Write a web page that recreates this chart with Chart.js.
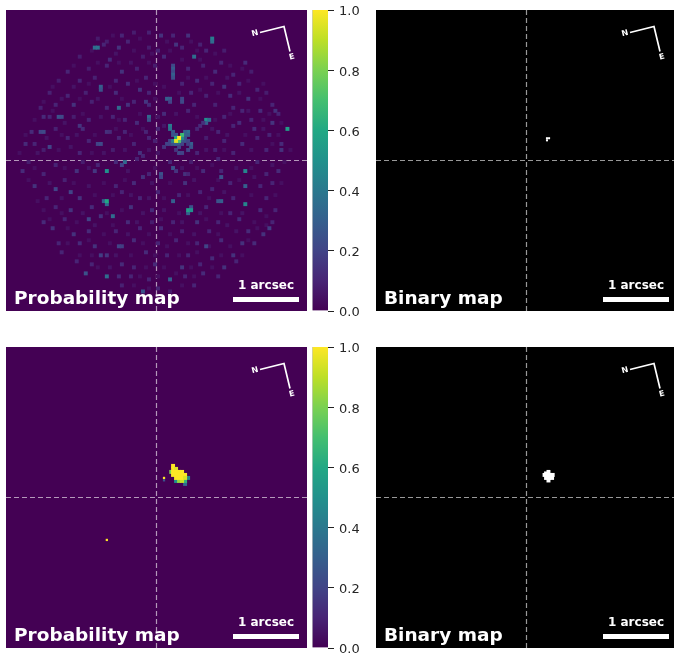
<!DOCTYPE html>
<html>
<head>
<meta charset="utf-8">
<title>Probability and binary maps</title>
<script src="https://cdn.jsdelivr.net/npm/chart.js@4"></script>
<style>
  html, body { margin: 0; padding: 0; background: #fff; overflow: hidden; width: 674px; height: 655px; }
  canvas { position: absolute; }
  .map { filter: blur(0.7px); }
</style>
</head>
<body>
<canvas id="mapTopLeft" class="map" style="left:6px;top:10px" width="301" height="301"></canvas>
<canvas id="barTop" style="left:312px;top:0px" width="60" height="320"></canvas>
<canvas id="mapTopRight" class="map" style="left:376px;top:10px" width="301" height="301"></canvas>
<canvas id="mapBottomLeft" class="map" style="left:6px;top:347px" width="301" height="301"></canvas>
<canvas id="barBottom" style="left:312px;top:337px" width="60" height="320"></canvas>
<canvas id="mapBottomRight" class="map" style="left:376px;top:347px" width="301" height="301"></canvas>
<script>
// Cells are [column, row, value] on the 100x100 map, only the non zero ones
const probTopCore = [
  [54,38,0.42],[54,39,0.38],[55,40,0.28],[55,41,0.26],[56,41,0.25],[60,40,0.36],[59,40,0.3],[60,41,0.3],[59,41,0.3],[59,42,0.25],
  [58,43,0.3],[59,43,0.25],[61,44,0.3],[61,45,0.25],[60,46,0.2],[53,44,0.2],[52,45,0.15],[57,47,0.22],[58,47,0.2],[56,46,0.15],
  [54,43,0.2],[54,44,0.2],[55,44,0.25],[56,44,0.3],[57,44,0.3],[58,44,0.2],[57,45,0.2],[60,43,0.2],[60,44,0.18],
  [66,36,0.5],[67,36,0.35],[66,37,0.3],[65,37,0.14],[64,38,0.12],[63,39,0.1],
  [55,43,0.42],[56,42,0.6],[58,42,0.48],[58,41,0.68],[57,43,0.72],[56,43,0.95],[57,42,1]
];
const probTopSpots = [
  [29,12,0.35],[30,12,0.38],[68,9,0.42],[68,10,0.35],[62,15,0.36],[55,18,0.22],[55,19,0.28],[55,20,0.22],[55,21,0.3],[55,22,0.25],
  [31,25,0.3],[31,26,0.25],[53,29,0.3],[54,29,0.28],[54,30,0.2],[58,29,0.2],[58,30,0.22],[37,32,0.35],[47,35,0.34],[47,36,0.25],
  [93,39,0.55],[17,35,0.25],[18,35,0.22],[11,40,0.2],[12,40,0.22],[30,44,0.2],[31,44,0.22],[14,45,0.2],[39,50,0.34],[38,51,0.2],
  [33,53,0.5],[79,53,0.45],[55,52,0.25],[56,53,0.15],[51,54,0.25],[51,55,0.2],[33,64,0.35],[32,63,0.3],[33,63,0.6],[60,67,0.3],[61,65,0.25],
  [60,66,0.55],[61,66,0.5],[79,64,0.45],[71,63,0.3],[70,63,0.26],[55,63,0.3],[33,88,0.35],[54,89,0.3],[26,87,0.25],[45,93,0.25],[79,58,0.3],
  [71,55,0.25],[16,59,0.2],[21,60,0.2],[35,68,0.35],[27,69,0.2],[87,72,0.18],[66,78,0.2],[37,78,0.2],[38,78,0.18],[31,81,0.18]
];
const probTopFaint = [
  [38,8,0.1],[42,7,0.08],[47,7,0.09],[51,8,0.14],[55,8,0.1],[60,8,0.14],[33,10,0.08],[40,10,0.1],[64,11,0.09],[30,9,0.07],
  [32,11,0.1],[37,12,0.14],[47,12,0.08],[50,13,0.1],[56,11,0.15],[58,12,0.1],[66,13,0.1],[72,13,0.08],[24,15,0.08],[34,16,0.12],
  [45,15,0.08],[52,15,0.12],[71,17,0.1],[79,17,0.12],[20,20,0.1],[27,19,0.08],[33,18,0.1],[38,20,0.14],[43,19,0.09],[49,18,0.08],
  [60,19,0.1],[65,18,0.09],[69,20,0.12],[75,21,0.1],[81,20,0.08],[17,23,0.08],[24,23,0.1],[29,22,0.09],[36,23,0.1],[40,24,0.12],
  [46,22,0.1],[58,24,0.1],[63,23,0.12],[68,24,0.1],[72,25,0.14],[77,24,0.1],[83,26,0.1],[86,27,0.08],[14,27,0.09],[20,28,0.1],
  [26,27,0.09],[36,27,0.12],[44,26,0.14],[47,27,0.1],[61,27,0.1],[66,28,0.09],[74,28,0.12],[80,29,0.14],[88,31,0.1],[11,32,0.09],
  [16,31,0.1],[22,31,0.14],[28,30,0.09],[33,32,0.1],[40,31,0.14],[42,30,0.1],[46,30,0.16],[47,31,0.12],[62,31,0.1],[69,31,0.09],
  [75,32,0.1],[78,33,0.1],[84,33,0.12],[89,33,0.14],[90,34,0.1],[12,35,0.12],[14,35,0.1],[22,35,0.08],[27,36,0.1],[35,35,0.1],
  [39,36,0.1],[43,37,0.12],[52,34,0.12],[60,33,0.1],[72,35,0.1],[77,37,0.12],[81,36,0.1],[88,37,0.15],[8,40,0.12],[16,39,0.09],
  [24,38,0.15],[25,39,0.12],[33,40,0.14],[34,40,0.12],[39,40,0.1],[46,40,0.1],[50,39,0.1],[70,40,0.1],[75,38,0.1],[82,39,0.12],
  [87,41,0.1],[6,44,0.12],[9,44,0.1],[20,42,0.1],[27,43,0.1],[37,42,0.1],[42,44,0.1],[47,42,0.1],[49,43,0.09],[66,42,0.08],
  [72,43,0.1],[78,44,0.12],[83,42,0.1],[91,44,0.12],[12,46,0.08],[24,47,0.1],[35,46,0.08],[44,47,0.14],[45,48,0.1],[63,47,0.1],
  [69,46,0.09],[75,47,0.1],[86,46,0.1],[91,46,0.14],[7,50,0.08],[16,51,0.1],[25,50,0.08],[30,51,0.1],[36,50,0.12],[43,49,0.09],
  [54,50,0.1],[61,50,0.08],[70,49,0.1],[83,50,0.1],[5,53,0.12],[12,54,0.1],[23,53,0.14],[29,53,0.16],[47,54,0.1],[59,54,0.14],
  [60,54,0.1],[65,53,0.12],[71,53,0.1],[86,54,0.1],[90,53,0.12],[9,58,0.14],[19,56,0.09],[36,58,0.1],[42,57,0.12],[45,55,0.14],
  [59,57,0.14],[68,59,0.1],[74,57,0.1],[84,58,0.1],[88,57,0.1],[13,62,0.1],[24,62,0.14],[38,60,0.1],[44,62,0.1],[50,60,0.1],
  [57,61,0.1],[64,60,0.1],[75,62,0.1],[86,62,0.1],[16,65,0.1],[21,66,0.14],[28,65,0.12],[41,65,0.14],[48,66,0.12],[66,65,0.1],
  [74,67,0.1],[84,66,0.12],[89,66,0.1],[12,70,0.12],[19,69,0.1],[31,68,0.14],[40,70,0.12],[48,70,0.08],[55,70,0.1],[63,70,0.14],
  [70,70,0.1],[77,69,0.12],[88,70,0.1],[15,72,0.14],[22,74,0.14],[27,73,0.12],[36,73,0.1],[44,72,0.1],[51,72,0.12],[58,73,0.09],
  [67,73,0.1],[80,73,0.12],[85,74,0.14],[17,77,0.1],[24,77,0.12],[29,78,0.14],[42,76,0.12],[50,77,0.1],[56,76,0.1],[63,77,0.1],
  [71,76,0.12],[78,77,0.14],[82,77,0.12],[18,80,0.1],[33,81,0.15],[46,80,0.12],[53,81,0.1],[60,81,0.1],[68,82,0.12],[75,81,0.14],
  [23,83,0.1],[28,84,0.1],[38,84,0.12],[42,85,0.1],[49,84,0.12],[58,85,0.15],[64,84,0.1],[72,85,0.14],[76,83,0.1],[37,88,0.12],
  [41,88,0.1],[47,89,0.1],[59,88,0.1],[65,87,0.12],[70,88,0.1],[38,91,0.09],[50,92,0.1],[54,93,0.08],[62,91,0.1]
];
// Fainter haze between the spots, it fills the round footprint
const probTopHaze = [
  [35,8,0.04],[44,9,0.04],[53,10,0.04],[61,10,0.04],[28,13,0.04],[36,14,0.05],[42,13,0.04],[48,14,0.04],[54,13,0.04],[63,13,0.04],[69,14,0.04],
  [22,18,0.04],[30,17,0.04],[37,17,0.04],[41,17,0.05],[47,17,0.04],[58,16,0.04],[64,16,0.04],[74,18,0.04],[78,19,0.04],
  [15,25,0.04],[22,25,0.05],[27,24,0.04],[34,25,0.04],[43,23,0.04],[49,24,0.04],[52,25,0.04],[60,22,0.04],[66,22,0.04],[73,22,0.05],[80,23,0.04],[85,24,0.04],
  [12,30,0.04],[18,29,0.05],[24,29,0.04],[30,29,0.05],[38,29,0.04],[49,29,0.04],[57,27,0.04],[64,26,0.04],[70,27,0.04],[77,27,0.05],[84,29,0.04],[87,34,0.04],
  [9,36,0.04],[15,33,0.04],[19,37,0.05],[25,34,0.04],[31,35,0.05],[37,36,0.04],[44,34,0.04],[50,35,0.05],[56,34,0.05],[63,35,0.04],[69,36,0.04],[74,34,0.04],[80,33,0.05],[85,36,0.04],[91,37,0.04],
  [6,41,0.04],[13,42,0.05],[18,41,0.04],[23,41,0.05],[29,41,0.04],[36,39,0.04],[41,41,0.04],[45,39,0.04],[52,38,0.06],[68,39,0.05],[73,41,0.05],[79,41,0.04],[85,39,0.05],[90,41,0.04],
  [4,47,0.04],[10,47,0.05],[17,46,0.04],[21,45,0.05],[28,47,0.04],[32,47,0.05],[39,46,0.05],[47,46,0.05],[50,47,0.05],[66,46,0.05],[72,46,0.04],[81,46,0.05],[88,44,0.04],[94,46,0.04],
  [9,52,0.04],[19,52,0.04],[27,52,0.05],[40,53,0.05],[49,52,0.04],[58,52,0.05],[63,52,0.04],[68,51,0.04],[76,52,0.05],[81,52,0.04],[88,51,0.05],[92,50,0.04],
  [7,56,0.04],[14,57,0.05],[22,57,0.04],[27,58,0.05],[32,57,0.04],[39,56,0.04],[48,57,0.05],[54,57,0.04],[62,56,0.05],[70,56,0.04],[77,56,0.04],[82,55,0.05],[91,57,0.04],
  [10,63,0.04],[18,62,0.05],[29,61,0.04],[35,61,0.04],[41,61,0.05],[47,62,0.05],[52,62,0.04],[60,61,0.04],[67,62,0.04],[72,60,0.05],[81,61,0.04],[89,61,0.04],
  [12,66,0.04],[18,67,0.04],[25,67,0.05],[33,67,0.04],[38,66,0.04],[45,67,0.05],[52,66,0.05],[57,67,0.04],[64,67,0.05],[71,67,0.04],[78,67,0.05],[86,68,0.04],
  [14,69,0.04],[23,70,0.04],[29,71,0.05],[35,71,0.04],[43,70,0.05],[51,69,0.04],[58,70,0.05],[66,69,0.04],[73,71,0.05],[82,70,0.04],[86,71,0.04],
  [20,72,0.04],[32,74,0.04],[40,74,0.05],[47,74,0.04],[54,74,0.04],[62,74,0.05],[70,74,0.04],[76,73,0.05],[83,72,0.04],
  [20,77,0.04],[27,76,0.04],[34,77,0.04],[45,77,0.04],[53,78,0.04],[60,77,0.04],[67,78,0.04],[74,78,0.04],[80,76,0.04],
  [24,81,0.04],[28,81,0.04],[36,81,0.05],[41,81,0.04],[49,81,0.04],[57,81,0.04],[63,80,0.04],[71,81,0.04],[78,81,0.04],
  [30,85,0.04],[34,85,0.05],[46,85,0.04],[52,85,0.04],[61,85,0.04],[68,85,0.04],[44,88,0.04],[50,88,0.04],[56,87,0.04],[62,88,0.04],[42,91,0.04],[47,92,0.04],[58,91,0.04]
];
const probBottomCells = [
  [59,45,0.35],[59,44,0.65],[56,44,0.5],[60,43,0.45],[57,44,0.85],[58,44,0.92],
  [55,39,1],[55,40,1],[56,40,0.95],[54.4,41,0.8],[55,41,1],[56,41,1],[57,41,1],[58,41,1],
  [55,42,1],[56,42,1],[57,42,1],[58,42,1],[59,42,1],[56,43,1],[57,43,1],[58,43,1],[59,43,0.95]
];
const probBottomDots = [[52,43.8,0.25],[52,43,1],[33,63.6,1]];
const noDots = [];
const binaryTopCells = [[56.3,42.1,1],[57,42.1,1],[56.3,42.8,1]];
const binaryBottomCells = [
  [56.8,41,1],[56,41.5,1],[55.5,42,1],[56.5,42,1],[57.5,42,1],[58.2,42,1],[56,43,1],[57,43,1],[58,43,1],[56.8,43.84,1]
];
const probTopCells = probTopHaze.concat(probTopFaint, probTopSpots, probTopCore);
const crossAt = [50];
const barTicks = [0, 0.2, 0.4, 0.6, 0.8, 1];

// Colormap stops for the colorbar and the cells
const viridis = ['#440154','#482475','#414487','#355f8d','#2a788e','#21918c','#22a884','#44bf70','#7ad151','#bddf26','#fde725'];

function hexRgb(h) {
  return [1, 3, 5].map(i => parseInt(h.substr(i, 2), 16));
}
function viridisColor(v) {
  const p = Math.min(v, 1) * (viridis.length - 1);
  const i = Math.min(Math.floor(p), viridis.length - 2);
  const a = hexRgb(viridis[i]), b = hexRgb(viridis[i + 1]);
  const c = a.map((n, k) => Math.round(n + (b[k] - n) * (p - i)));
  return `rgb(${c[0]},${c[1]},${c[2]})`;
}

// Background, compass, scale bar and caption
const overlay = {
  id: 'overlay',
  beforeDatasetsDraw(chart, args, opts) {
    const { ctx, chartArea: a } = chart;
    ctx.save();
    ctx.fillStyle = opts.bg;
    ctx.fillRect(a.left, a.top, a.width, a.height);
    ctx.restore();
  },
  afterDatasetsDraw(chart, args, opts) {
    const { ctx } = chart;
    ctx.save();
    ctx.strokeStyle = '#fff';
    ctx.fillStyle = '#fff';
    ctx.lineWidth = 1.7;
    ctx.beginPath();
    ctx.moveTo(254, 22.5);
    ctx.lineTo(278, 16.5);
    ctx.lineTo(284, 41.5);
    ctx.stroke();
    ctx.textAlign = 'center';
    ctx.textBaseline = 'middle';
    ctx.font = 'bold 8px "DejaVu Sans"';
    [['N', 249, 23.5], ['E', 286, 47]].forEach(([t, x, y]) => {
      ctx.save();
      ctx.translate(x, y);
      ctx.rotate(-14 * Math.PI / 180);
      ctx.fillText(t, 0, 0);
      ctx.restore();
    });
    ctx.fillRect(227, 287, 66, 5);
    ctx.font = 'bold 12px "DejaVu Sans"';
    ctx.fillText('1 arcsec', 260, 276);
    ctx.textAlign = 'left';
    ctx.textBaseline = 'alphabetic';
    ctx.font = 'bold 18.5px "DejaVu Sans"';
    ctx.fillText(opts.title, 8, 294);
    ctx.restore();
  }
};

function toPoints(cells) {
  return cells.map(c => ({ x: c[0] + 0.5, y: c[1] + 0.5, v: c[2] }));
}

function makeMap(id, cells, color, title, bg, radius, dots) {
  const fill = ctx => (ctx.raw ? color(ctx.raw.v) : bg);
  new Chart(document.getElementById(id), {
    type: 'scatter',
    data: {
      datasets: [
        { data: toPoints(cells), pointStyle: 'rect', pointRadius: radius, borderWidth: 0, backgroundColor: fill },
        { data: toPoints(dots), pointStyle: 'rect', pointRadius: 1.6, borderWidth: 0, backgroundColor: fill },
        {
          data: [{ x: crossAt[0], y: 0 }, { x: crossAt[0], y: 100 }],
          showLine: true, pointRadius: 0, borderWidth: 1.2,
          borderColor: 'rgba(255,255,255,0.6)', borderDash: [5, 3]
        },
        {
          data: [{ x: 0, y: crossAt[0] }, { x: 100, y: crossAt[0] }],
          showLine: true, pointRadius: 0, borderWidth: 1.2,
          borderColor: 'rgba(255,255,255,0.6)', borderDash: [5, 3]
        }
      ]
    },
    options: {
      responsive: false,
      animation: false,
      layout: { padding: 0, autoPadding: false },
      plugins: { legend: { display: false }, tooltip: { enabled: false }, overlay: { title, bg } },
      scales: {
        x: { type: 'linear', min: 0, max: 100, display: false },
        y: { type: 'linear', min: 0, max: 100, reverse: true, display: false }
      }
    },
    plugins: [overlay]
  });
}

function makeColorbar(id) {
  new Chart(document.getElementById(id), {
    type: 'bar',
    data: {
      labels: [''],
      datasets: [{
        data: [[0, 1]],
        barPercentage: 1,
        categoryPercentage: 1,
        borderWidth: { left: 1 },
        borderSkipped: false,
        borderColor: '#c8c8c8',
        backgroundColor: ctx => {
          const a = ctx.chart.chartArea;
          if (!a) return viridis[0];
          const g = ctx.chart.ctx.createLinearGradient(0, a.bottom, 0, a.top);
          viridis.forEach((c, i) => g.addColorStop(i / (viridis.length - 1), c));
          return g;
        }
      }]
    },
    options: {
      responsive: false,
      animation: false,
      layout: { padding: { top: 10, bottom: 9, left: 0, right: 0 }, autoPadding: false },
      plugins: { legend: { display: false }, tooltip: { enabled: false } },
      scales: {
        x: { display: false },
        y: {
          position: 'right',
          min: 0,
          max: 1,
          afterBuildTicks: s => { s.ticks = barTicks.map(v => ({ value: v })); },
          afterFit: s => { s.width = 44; s.paddingTop = 0; s.paddingBottom = 0; },
          border: { display: false },
          grid: { drawOnChartArea: false, tickLength: 6, tickColor: '#222', lineWidth: 1 },
          ticks: {
            color: '#262626',
            padding: 5,
            labelOffset: 2,
            font: { family: '"DejaVu Sans"', size: 13 },
            callback: v => v.toFixed(1)
          }
        }
      }
    }
  });
}

makeMap('mapTopLeft', probTopCells, viridisColor, 'Probability map', viridis[0], 2.8, noDots);
makeMap('mapTopRight', binaryTopCells, () => '#fff', 'Binary map', '#000', 1.45, noDots);
makeMap('mapBottomLeft', probBottomCells, viridisColor, 'Probability map', viridis[0], 2.8, probBottomDots);
makeMap('mapBottomRight', binaryBottomCells, () => '#fff', 'Binary map', '#000', 2.8, noDots);
makeColorbar('barTop');
makeColorbar('barBottom');
</script>
</body>
</html>
